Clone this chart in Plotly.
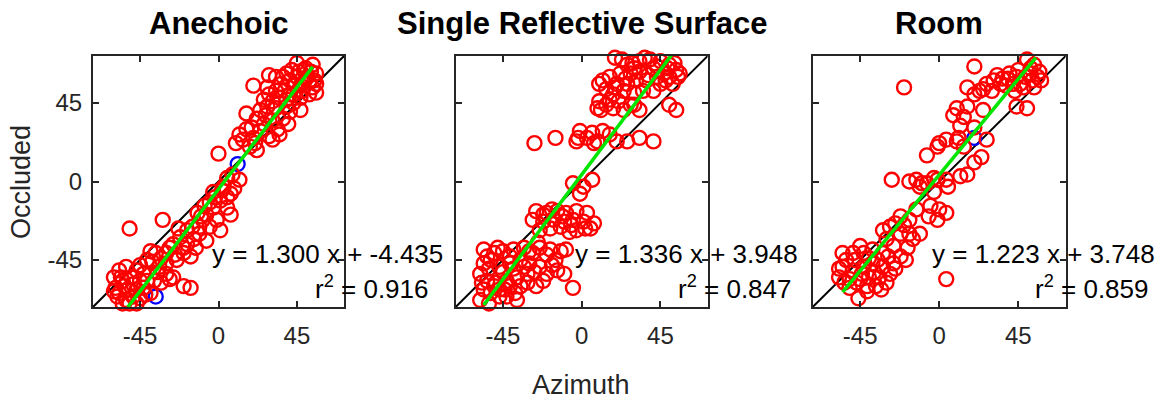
import plotly.graph_objects as go

# ---------------- data ----------------
titles = ["Anechoic", "Single Reflective Surface", "Room"]
tick_vals = [-45, 0, 45]
tick_text = ["-45", "0", "45"]
axis_range = [-72, 72]

anechoic_x = [45, 54, 49, 56, 39, 33, 29, 50, 41, 56, 47, 54, 20, 28, 33, 38, 43, 56, 26, 31,
              39, 47, 52, 28, 24, 33, 39, 41, 47, 16, 31, 37, 26, 24, 29, 35, 31, 20, 14, 10,
              18, 22, 12, 16, 0, 8, 12, 5, 3, 9, -3, 1, 5, 7, -3, -7, -1, -5, 1, -7,
              -11, -15, -13, -18, -22, -20, -16, -26, -24, -30, -32, -51, -36, -39, -41, -34, -30, -26, -20, -16,
              -37, -43, -47, -53, -57, -55, -49, -43, -39, -45, -51, -57, -55, -59, -49, -60, -11, -9, 5, 7,
              -52, -47, -41, -35, -30, -25, -20, -14, -10, -5, 2, 50, 45, 52, 48, 36, 43,
              53, 51, 46, 42, 37, 44, 49, 55, 35, 41, 29, 22, 27, 34, 40, 19, 21, -2, -8, -12,
              -18, -23, -28, -33, -38, -45, -50, -54, -58, -47, -42, -33, -28, -53, -60, -56, -45]
anechoic_y = [68, 67, 64, 62, 62, 60, 61, 59, 58, 56, 55, 54, 55, 54, 52, 52, 50, 51, 47, 46,
              47, 48, 50, 43, 41, 42, 43, 40, 41, 39, 35, 36, 33, 29, 26, 27, 24, 25, 24, 22,
              20, 18, 27, 30, 16, 4, 1, 2, -3, -4, -6, -11, -15, -19, -15, -19, -22, -26, -28, -34,
              -30, -26, -38, -36, -32, -41, -43, -36, -45, -41, -22, -27, -41, -40, -45, -49, -53, -55, -60, -61,
              -57, -53, -51, -49, -51, -57, -59, -61, -64, -67, -70, -64, -70, -61, -66, -55, -26, -22, -9, -7,
              -62, -62, -57, -52, -47, -42, -38, -33, -20, -12, -5, 65, 60, 57, 52, 56, 45,
              63, 60, 63, 64, 60, 55, 57, 58, 48, 50, 50, 36, 38, 30, 33, 31, 22, -9, -14, -18,
              -28, -27, -38, -44, -46, -48, -55, -60, -66, -70, -65, -58, -56, -68, -63, -55, -57]
anechoic_blue_x = [11, -36]
anechoic_blue_y = [10, -66]

reflective_x = [19, 26, 33, 39, 45, 50, 54, 56, 49, 41, 33, 28, 22, 16, 10, 14, 20, 26, 31, 37,
                43, 50, 52, 41, 35, 30, 24, 18, 10, 9, 14, 18, 24, 28, 33, 50, 54, 41, 33, 26,
                20, 16, 12, 9, 3, -1, -3, 7, -15, -27, -5, 1, 6, -1,
                -26, -20, -14, -9, -3, 3, -28, -22, -16, -10, -5, 1, 7, -24, -18, -12, -7, -3, 5,
                -56, -50, -45, -39, -33, -28, -24, -18, -12, -9, -56, -52, -47, -41, -35, -30, -24, -20, -14, -10,
                -58, -54, -49, -43, -37, -31, -26, -56, -52, -47, -41, -35, -58, -5,
                23, 29, 36, 43, 47, 53, 30, 38, 45, 25, 19, 12, 48, 55, 16, 11, 21, 30, -2, 6,
                -53, -45, -39, -33, -27, -50, -44, -38, -31, -22, -15, -17, -54, -48, -41, -30, -20, -57,
                -47, -43, -37, -53, -25, -11, -6, 2, -17, -22]
reflective_y = [71, 67, 69, 70, 69, 67, 64, 62, 65, 65, 63, 62, 62, 60, 56, 53, 56, 56, 58, 58,
                60, 60, 56, 52, 52, 51, 52, 50, 46, 42, 44, 42, 41, 44, 41, 44, 41, 23, 25, 23,
                23, 27, 29, 23, 25, 29, 23, 22, 25, 22, -1, -3, 1, -7,
                -17, -18, -17, -18, -17, -18, -22, -23, -22, -23, -22, -23, -24, -28, -27, -26, -29, -28, -27,
                -39, -41, -40, -39, -38, -41, -38, -39, -40, -39, -47, -45, -49, -47, -45, -47, -49, -53, -51, -53,
                -53, -57, -58, -57, -55, -53, -60, -62, -64, -66, -60, -60, -68, -61,
                70, 68, 71, 66, 62, 68, 65, 61, 56, 59, 54, 58, 58, 60, 47, 41, 46, 44, 25, 28,
                -50, -52, -50, -49, -52, -60, -62, -64, -58, -57, -45, -48, -43, -38, -43, -40, -42, -58,
                -62, -66, -68, -70, -35, -20, -25, -27, -16, -19]

room_x = [50, 54, 20, 57, 52, 44, 39, 31, 27, 35, 42, 48, 54, 58, 16, 23, -20, 10, 16, 25,
          14, 44, 50, 12, 20, 27, 0, 4, 10, -1, -7, 20, 16, 12, 4, -1, -7, -13, -17, -27,
          -11, -3, -5, 0, 4, -1, -13, -17, -22, -28, -32, -22, -17, -11, 4,
          -55, -49, -43, -38, -32, -26, -22, -19, -55, -49, -43, -38, -32, -26,
          -57, -51, -45, -40, -34, -28, -30, -51, -46, -41, -36,
          36, 40, 45, 49, 53, 46, 38, 30, 33, 43, 56, 52, 25, 20, 8, 11, 14, 24, -3, -10,
          5, -6, -25, -15, -20, -48, -53, -40, -35, -29, -44, -37, -54, -47, -41, -33, -57, -25,
          -18, -30, -45]
room_y = [70, 67, 66, 63, 62, 60, 59, 58, 56, 56, 56, 54, 54, 58, 54, 52, 54, 42, 43, 41,
          37, 43, 42, 32, 31, 24, 22, 24, 23, 20, 15, 11, 4, 3, 1, 1, -1, 1, 0, 1,
          -3, -6, -14, -16, -18, -22, -16, -22, -20, -26, -28, -30, -30, -30, -56,
          -41, -41, -41, -39, -41, -37, -43, -45, -49, -51, -49, -47, -49, -47,
          -55, -56, -56, -55, -55, -53, -58, -61, -67, -60, -60,
          59, 62, 64, 60, 58, 56, 55, 52, 61, 52, 60, 65, 53, 50, 38, 25, 20, 14, 2, -1,
          -3, -20, -24, -33, -25, -45, -45, -44, -45, -43, -53, -52, -58, -58, -63, -62, -50, -50,
          -38, -33, -37]
room_blue_x = [20]
room_blue_y = [25]

fit_slope = [1.300, 1.336, 1.223]
fit_intercept = [-4.435, 3.948, 3.748]
fit_r2 = [0.916, 0.847, 0.859]
fit_x_span = [[-52, 54], [-56, 52], [-55, 55]]

panels_x = [anechoic_x, reflective_x, room_x]
panels_y = [anechoic_y, reflective_y, room_y]
panels_bx = [anechoic_blue_x, [], room_blue_x]
panels_by = [anechoic_blue_y, [], room_blue_y]

# ---------------- layout geometry ----------------
W, H = 1164, 404
x_domains_px = [(93, 344), (455.7, 707.7), (812.7, 1065.7)]
y_domain_px = (56, 307)  # top, bottom

AX_COLOR = "#262626"
FONT = "Liberation Sans, Arial, Helvetica, sans-serif"

fig = go.Figure()
annotations = []

for i in range(3):
    sfx = "" if i == 0 else str(i + 1)
    xa, ya = "x" + sfx, "y" + sfx

    # diagonal y = x
    fig.add_trace(go.Scatter(x=axis_range, y=axis_range, mode="lines",
                             line=dict(color="black", width=2),
                             xaxis=xa, yaxis=ya, showlegend=False, hoverinfo="skip"))
    # blue markers
    if panels_bx[i]:
        fig.add_trace(go.Scatter(x=panels_bx[i], y=panels_by[i], mode="markers",
                                 marker=dict(symbol="circle-open", size=14, color="#0000ff",
                                             line=dict(width=2.3, color="#0000ff")),
                                 cliponaxis=False, xaxis=xa, yaxis=ya, showlegend=False))
    # red markers
    fig.add_trace(go.Scatter(x=panels_x[i], y=panels_y[i], mode="markers",
                             marker=dict(symbol="circle-open", size=14, color="#ff0000",
                                         line=dict(width=2.4, color="#ff0000")),
                             cliponaxis=False, xaxis=xa, yaxis=ya, showlegend=False))
    # fit line
    fx = fit_x_span[i]
    fy = [fit_slope[i] * v + fit_intercept[i] for v in fx]
    fig.add_trace(go.Scatter(x=fx, y=fy, mode="lines",
                             line=dict(color="#00e600", width=3.5),
                             xaxis=xa, yaxis=ya, showlegend=False, hoverinfo="skip"))

    x0, x1 = x_domains_px[i]
    axis_common = dict(range=axis_range, tickmode="array", tickvals=tick_vals, ticktext=tick_text,
                       ticks="inside", ticklen=6, tickwidth=1.5, tickcolor=AX_COLOR,
                       showline=True, linecolor=AX_COLOR, linewidth=2, mirror="ticks",
                       showgrid=False, zeroline=False,
                       tickfont=dict(family=FONT, size=24, color=AX_COLOR))
    fig.layout["xaxis" + sfx] = dict(domain=[x0 / W, x1 / W], anchor=ya,
                                     ticklabelstandoff=6, **axis_common)
    fig.layout["yaxis" + sfx] = dict(domain=[1 - y_domain_px[1] / H, 1 - y_domain_px[0] / H],
                                     anchor=xa, ticklabelstandoff=4,
                                     showticklabels=(i == 0), **axis_common)

    # title
    annotations.append(dict(text="<b>" + titles[i] + "</b>", x=(x0 + x1) / 2 / W, y=1 - 23 / H,
                            xref="paper", yref="paper", xanchor="center", yanchor="middle",
                            showarrow=False, font=dict(family=FONT, size=31, color="black")))
    # fit text
    eq = "y = %.3f x + %.3f" % (fit_slope[i], fit_intercept[i])
    annotations.append(dict(text=eq, x=(x0 + 117) / W, y=1 - 254 / H,
                            xref="paper", yref="paper", xanchor="left", yanchor="middle",
                            showarrow=False, font=dict(family=FONT, size=26, color="black")))
    r2t = "r<sup>2</sup> = %.3f" % fit_r2[i]
    annotations.append(dict(text=r2t, x=(x0 + 220) / W, y=1 - 287 / H,
                            xref="paper", yref="paper", xanchor="left", yanchor="middle",
                            showarrow=False, font=dict(family=FONT, size=26, color="black")))

annotations.append(dict(text="Occluded", x=21 / W, y=1 - 182 / H, xref="paper", yref="paper",
                        xanchor="center", yanchor="middle", textangle=-90, showarrow=False,
                        font=dict(family=FONT, size=27, color=AX_COLOR)))
annotations.append(dict(text="Azimuth", x=581 / W, y=1 - 385 / H, xref="paper", yref="paper",
                        xanchor="center", yanchor="middle", showarrow=False,
                        font=dict(family=FONT, size=27, color=AX_COLOR)))

fig.update_layout(width=W, height=H, margin=dict(l=0, r=0, t=0, b=0),
                  paper_bgcolor="white", plot_bgcolor="white",
                  annotations=annotations, showlegend=False)

fig.write_html("out.html")
